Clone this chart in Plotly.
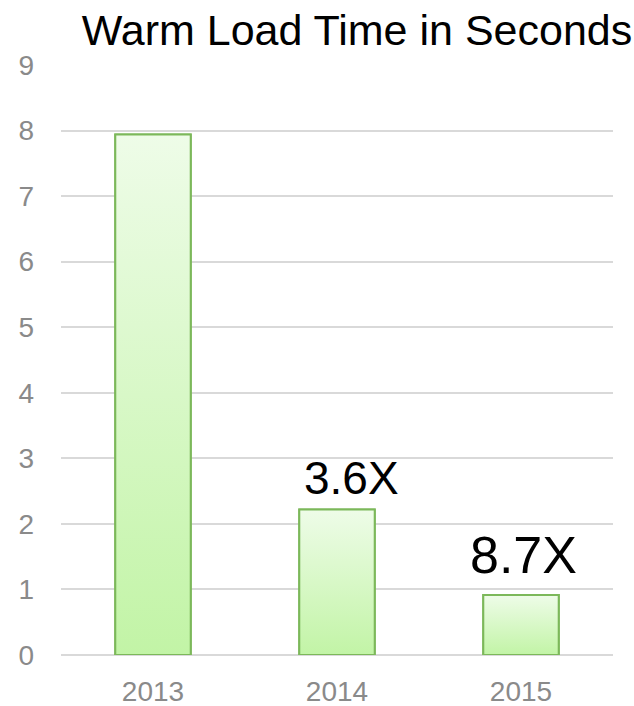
import plotly.graph_objects as go

# Warm load time per release year (seconds)
years = ["2013", "2014", "2015"]
load_seconds = [7.94, 2.22, 0.914]
speedup_labels = ["", "3.6X", "8.7X"]
y_ticks = list(range(0, 10))

BAR_WIDTH = 0.41
EDGE = "#7cb85a"
FILL_TOP = "#eefce8"
FILL_BOTTOM = "#c2f4a6"
GRID = "#d9d9d9"
TICK_GRAY = "#8a8a8a"
FONT = "Liberation Sans, Arial, sans-serif"

xs = list(range(len(years)))

fig = go.Figure()

# Base bars (outline + fallback fill)
fig.add_trace(go.Bar(
    x=xs, y=load_seconds, width=BAR_WIDTH,
    marker=dict(color=FILL_BOTTOM, line=dict(color=EDGE, width=2)),
    showlegend=False, hoverinfo="x+y",
))

# Vertical gradient fill for each bar, following the bar's own extent
for i, v in zip(xs, load_seconds):
    x0, x1 = i - BAR_WIDTH / 2, i + BAR_WIDTH / 2
    fig.add_trace(go.Scatter(
        x=[x0, x0, x1, x1, x0], y=[0, v, v, 0, 0],
        mode="lines", fill="toself",
        fillgradient=dict(type="vertical",
                          colorscale=[[0, FILL_BOTTOM], [1, FILL_TOP]]),
        line=dict(color=EDGE, width=2),
        showlegend=False, hoverinfo="skip",
    ))

# Speed-up labels above the later bars
label_sizes = [46, 46, 52]
label_shift = [0, 3, 9]
label_xshift = [0, 14, 2]
for i, (v, txt) in enumerate(zip(load_seconds, speedup_labels)):
    if not txt:
        continue
    fig.add_annotation(
        x=i, y=v, text=txt, showarrow=False,
        xanchor="center", yanchor="bottom",
        xshift=label_xshift[i], yshift=label_shift[i],
        font=dict(family=FONT, size=label_sizes[i], color="#000000"),
    )

fig.update_layout(
    width=634, height=706,
    margin=dict(l=61, r=21, t=65, b=51, autoexpand=False),
    paper_bgcolor="white", plot_bgcolor="white",
    title=dict(
        text="Warm Load Time in Seconds",
        x=357 / 634, xanchor="center", xref="container",
        y=1 - 30 / 706, yanchor="middle", yref="container",
        font=dict(family=FONT, size=43, color="#000000"),
        automargin=False,
    ),
    bargap=0.59,
    showlegend=False,
)

fig.update_xaxes(
    range=[-0.5, 2.5],
    tickmode="array", tickvals=xs, ticktext=years,
    showgrid=False, zeroline=False, showline=False,
    ticks="", ticklabelstandoff=17, automargin=False,
    tickfont=dict(family=FONT, size=28, color=TICK_GRAY),
    fixedrange=True,
)

fig.update_yaxes(
    range=[0, 9],
    tickmode="array", tickvals=y_ticks,
    showgrid=True, gridcolor=GRID, gridwidth=1.5,
    zeroline=True, zerolinecolor=GRID, zerolinewidth=1.5,
    showline=False, ticks="", ticklabelstandoff=26, automargin=False,
    tickfont=dict(family=FONT, size=28, color=TICK_GRAY),
    fixedrange=True,
)

fig.write_html("out.html")
